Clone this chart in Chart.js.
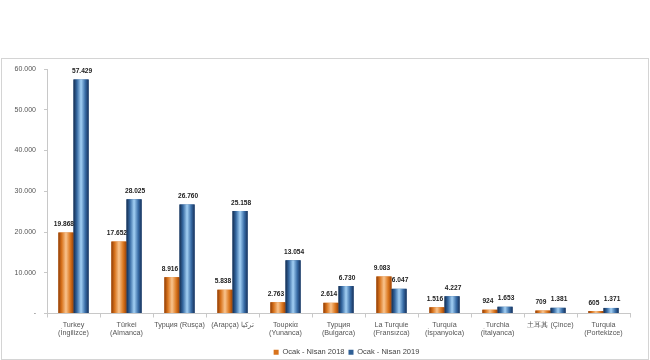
<!DOCTYPE html>
<html>
<head>
<meta charset="utf-8">
<script src="https://cdn.jsdelivr.net/npm/chart.js@4"></script>
<style>
  html, body { margin: 0; padding: 0; background: #fff; }
  #wrap { position: relative; width: 650px; height: 360px; }
  #frame { position: absolute; left: 1px; top: 58px; width: 646px; height: 300px; border: 1px solid #d4d4d4; }
  canvas { position: absolute; left: 0; top: 0; }
</style>
</head>
<body>
<div id="wrap">
  <div id="frame"></div>
  <canvas id="chart" width="650" height="360"></canvas>
</div>
<script>
const categories = [
  ["Turkey", "(İngilizce)"],
  ["Türkei", "(Almanca)"],
  "Турция (Rusça)",
  "(Arapça) تركيا",
  ["Τουρκία", "(Yunanca)"],
  ["Турция", "(Bulgarca)"],
  ["La Turquie", "(Fransızca)"],
  ["Turquía", "(İspanyolca)"],
  ["Turchia", "(İtalyanca)"],
  "土耳其 (Çince)",
  ["Turquia", "(Portekizce)"]
];
const seriesNames = ["Ocak - Nisan 2018", "Ocak - Nisan 2019"];
const values2018 = [19868, 17652, 8916, 5838, 2763, 2614, 9083, 1516, 924, 709, 605];
const values2019 = [57429, 28025, 26760, 25158, 13054, 6730, 6047, 4227, 1653, 1381, 1371];
const yTicks = [0, 10000, 20000, 30000, 40000, 50000, 60000];

const FONT = "'Liberation Sans', Arial, sans-serif";

/* ================= HELPERS ================= */
const fmt = v => v === 0 ? "-" : String(v).replace(/\B(?=(\d{3})+(?!\d))/g, ".");

const stops = [
  ["#8f3c06", "#d8731c", "#f9c48e", "#dc781f", "#9a4208"],
  ["#142c4e", "#3467a0", "#a3d0f4", "#386ca6", "#17315a"]
];

/* cylinder shading + value labels, painted over the library's bars */
const shadePlugin = {
  id: "shade",
  afterDatasetsDraw(chart) {
    const ctx = chart.ctx;
    ctx.save();
    chart.data.datasets.forEach((ds, di) => {
      const s = stops[di];
      chart.getDatasetMeta(di).data.forEach(bar => {
        const x0 = bar.x - bar.width / 2;
        const g = ctx.createLinearGradient(x0, 0, x0 + bar.width, 0);
        g.addColorStop(0, s[0]);
        g.addColorStop(0.22, s[1]);
        g.addColorStop(0.5, s[2]);
        g.addColorStop(0.78, s[3]);
        g.addColorStop(1, s[4]);
        ctx.fillStyle = g;
        ctx.fillRect(x0, bar.y, bar.width, bar.base - bar.y);
      });
    });

    ctx.font = "bold 6.6px " + FONT;
    ctx.fillStyle = "#222";
    ctx.textAlign = "center";
    ctx.textBaseline = "bottom";
    chart.data.datasets.forEach((ds, di) => {
      const shift = di === 0 ? -2 : 1;
      chart.getDatasetMeta(di).data.forEach((bar, i) => {
        ctx.fillText(fmt(ds.data[i]), bar.x + shift, bar.y - 5);
      });
    });
    ctx.restore();
  }
};

/* legend sits a bit right of centre and low in the original */
const legendShift = {
  id: "legendShift",
  afterUpdate(chart) {
    chart.legend.left += 28;
    chart.legend.right += 28;
    chart.legend.top += 6;
    chart.legend.bottom += 6;
  }
};

/* ================= CHART ================= */
new Chart(document.getElementById("chart"), {
  type: "bar",
  data: {
    labels: categories,
    datasets: [
      { label: seriesNames[0], data: values2018, backgroundColor: "#d8731c", borderWidth: 0 },
      { label: seriesNames[1], data: values2019, backgroundColor: "#2f5f95", borderWidth: 0 }
    ]
  },
  options: {
    responsive: false,
    animation: false,
    layout: { padding: { left: 7, right: 20, top: 69, bottom: 0 } },
    datasets: { bar: { categoryPercentage: 0.57, barPercentage: 1 } },
    scales: {
      x: {
        grid: { display: true, drawOnChartArea: false, tickLength: 4, color: "#c8c8c8" },
        border: { color: "#c8c8c8" },
        ticks: { color: "#555", font: { family: FONT, size: 7.2 }, maxRotation: 0, autoSkip: false, padding: 3 },
        afterFit: axis => { axis.height = 25; }
      },
      y: {
        min: 0,
        max: 60000,
        afterBuildTicks: axis => { axis.ticks = yTicks.map(v => ({ value: v })); },
        afterFit: axis => { axis.width = 40; },
        grid: { display: true, drawOnChartArea: false, tickLength: 3, color: "#c8c8c8" },
        border: { color: "#c8c8c8" },
        ticks: { color: "#555", font: { family: FONT, size: 7 }, padding: 8, callback: v => fmt(v) }
      }
    },
    plugins: {
      legend: {
        position: "bottom",
        labels: { boxWidth: 5, boxHeight: 5, padding: 4, color: "#444", font: { family: FONT, size: 7.5 } }
      },
      tooltip: { enabled: false }
    }
  },
  plugins: [shadePlugin, legendShift]
});
</script>
</body>
</html>
